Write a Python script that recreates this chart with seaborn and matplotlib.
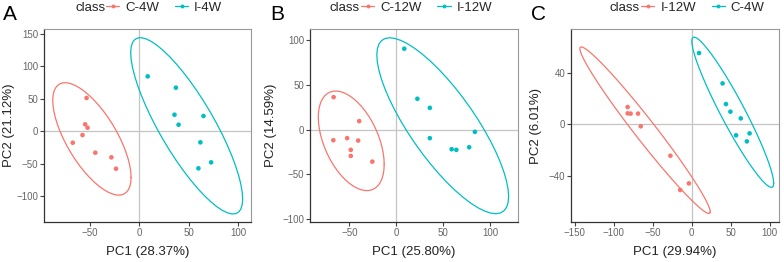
import numpy as np
import pandas as pd
import matplotlib
matplotlib.use("Agg")
import matplotlib.pyplot as plt
import seaborn as sns
from matplotlib.lines import Line2D

# ---------------- data ----------------
panel_letters = ["A", "B", "C"]
x_titles = ["PC1 (28.37%)", "PC1 (25.80%)", "PC1 (29.94%)"]
y_titles = ["PC2 (21.12%)", "PC2 (14.59%)", "PC2 (6.01%)"]
class_names = [["C-4W", "I-4W"], ["C-12W", "I-12W"], ["I-12W", "C-4W"]]

a_red_x = [-53.1, -54.5, -52.1, -57.2, -67.0, -44.3, -28.1, -23.4]
a_red_y = [50.8, 10.3, 5.1, -6.2, -18.0, -33.3, -40.5, -58.0]
a_teal_x = [8.5, 36.9, 35.5, 39.6, 64.7, 61.6, 72.4, 59.6]
a_teal_y = [84.1, 66.7, 25.1, 9.7, 23.1, -17.4, -48.2, -57.4]

b_red_x = [-66.8, -67.1, -52.4, -39.5, -40.6, -48.5, -48.5, -25.5]
b_red_y = [36.3, -12.0, -9.7, 9.4, -12.4, -22.8, -29.6, -36.0]
b_teal_x = [8.6, 22.6, 35.9, 35.9, 59.2, 64.2, 77.9, 84.0]
b_teal_y = [90.6, 34.5, 24.3, -9.7, -22.1, -22.8, -19.9, -2.6]

c_red_x = [-82.0, -82.0, -78.2, -68.7, -65.2, -27.2, -3.5, -14.7]
c_red_y = [13.4, 8.5, 8.3, 8.3, -1.5, -24.3, -45.7, -50.8]
c_teal_x = [9.5, 39.7, 44.0, 49.7, 63.0, 74.3, 57.0, 70.8]
c_teal_y = [55.2, 31.7, 15.7, 9.8, 4.6, -7.0, -8.5, -13.2]

x_ticks = [[-50, 0, 50, 100], [-50, 0, 50, 100], [-150, -100, -50, 0, 50, 100]]
y_ticks = [[-100, -50, 0, 50, 100, 150], [-100, -50, 0, 50, 100], [-40, 0, 40]]
x_lims = [(-96, 112.6), (-92, 130), (-154.6, 112)]
y_lims = [(-140, 157), (-103.7, 112.7), (-75.6, 73.8)]

panels = [
    (a_red_x, a_red_y, a_teal_x, a_teal_y),
    (b_red_x, b_red_y, b_teal_x, b_teal_y),
    (c_red_x, c_red_y, c_teal_x, c_teal_y),
]

RED = "#F8766D"
TEAL = "#00BFC4"
F_95_2_7 = 4.737414  # qf(0.95, 2, 7) for n = 8 points per group


def cov_trob(x, nu=5, maxit=25, tol=0.01):
    n, p = x.shape
    wt = np.ones(n)
    loc = (wt[:, None] * x).sum(0) / wt.sum()
    w = np.sqrt(wt)
    for _ in range(maxit):
        w0 = w
        X = x - loc
        _, d, vt = np.linalg.svd(np.sqrt(w / w.sum())[:, None] * X, full_matrices=False)
        wX = X @ vt.T @ np.diag(1.0 / d)
        Q = (wX ** 2).sum(1)
        w = (wt * (nu + p)) / (nu + Q)
        loc = (w[:, None] * x).sum(0) / w.sum()
        if np.all(np.abs(w - w0) < tol):
            break
    cov = (np.sqrt(w)[:, None] * X).T @ (np.sqrt(w)[:, None] * X) / wt.sum()
    return loc, cov


def ellipse(xs, ys, segments=51):
    pts = np.column_stack([xs, ys])
    center, shape = cov_trob(pts)
    chol = np.linalg.cholesky(shape).T
    radius = np.sqrt(2 * F_95_2_7)
    ang = np.linspace(0, 2 * np.pi, segments)
    circ = np.column_stack([np.cos(ang), np.sin(ang)])
    e = center + radius * (circ @ chol)
    return e[:, 0], e[:, 1]


sns.set_theme(style="white")
plt.rcParams["font.family"] = ["Liberation Sans", "DejaVu Sans"]

fig = plt.figure(figsize=(7.84, 2.62), dpi=100)
W, H = 784, 262
axes_px = [(44, 251), (310, 518), (571, 779)]
top_px, bot_px = 29, 222
letter_x = [3, 270, 531]
class_x = [75, 330, 610]
ylabel_right = [15, 277, 542]

renderer = fig.canvas.get_renderer()

for i, (rx, ry, tx, ty) in enumerate(panels):
    l, r = axes_px[i]
    ax = fig.add_axes([l / W, 1 - bot_px / H, (r - l) / W, (bot_px - top_px) / H])
    ax.axhline(0, color="#C4C4C4", lw=0.9, zorder=1)
    ax.axvline(0, color="#C4C4C4", lw=0.9, zorder=1)
    names = class_names[i]
    df = pd.DataFrame({
        "x": list(rx) + list(tx),
        "y": list(ry) + list(ty),
        "cls": [names[0]] * len(rx) + [names[1]] * len(tx),
    })
    pal = {names[0]: RED, names[1]: TEAL}
    for nm, xs, ys in [(names[0], rx, ry), (names[1], tx, ty)]:
        ex, ey = ellipse(np.array(xs), np.array(ys))
        ax.plot(ex, ey, color=pal[nm], lw=0.9, zorder=2)
    sns.scatterplot(data=df, x="x", y="y", hue="cls", palette=pal, s=11,
                    edgecolor="none", legend=False, ax=ax, zorder=3)
    ax.set_xlim(*x_lims[i])
    ax.set_ylim(*y_lims[i])
    ax.set_xticks(x_ticks[i])
    ax.set_yticks(y_ticks[i])
    ax.tick_params(axis="both", which="major", labelsize=7, labelcolor="#666666",
                   color="#444444", length=3.2, width=0.8, pad=1.0, bottom=True, left=True)
    ax.set_xlabel(x_titles[i], fontsize=9.5, color="#222222", labelpad=6)
    ax.set_ylabel(y_titles[i], fontsize=9.5, color="#222222")
    ax.yaxis.set_label_coords((ylabel_right[i] - l) / (r - l), 0.5)
    for side in ["left", "bottom"]:
        ax.spines[side].set_color("#333333")
        ax.spines[side].set_linewidth(0.9)
    for side in ["top", "right"]:
        ax.spines[side].set_color("#999999")
        ax.spines[side].set_linewidth(0.8)

    fig.text(letter_x[i] / W, 1 - 14.5 / H, panel_letters[i], fontsize=15,
             va="center", ha="left", color="black")
    ct = fig.text(class_x[i] / W, 1 - 8 / H, "class", fontsize=9.5, va="center",
                  ha="left", color="#222222")
    bb = ct.get_window_extent(renderer=renderer)
    leg_left_px = bb.x1 + 1
    handles = [Line2D([0], [0], color=pal[nm], lw=0.9, marker="o", markersize=2.8,
                      markeredgewidth=0) for nm in names]
    ax.legend(handles, names, loc="center left", ncol=2, frameon=False,
              fontsize=9.5, handlelength=1.0, handletextpad=0.45, columnspacing=1.2,
              borderaxespad=0, borderpad=0,
              bbox_to_anchor=fig.transFigure.inverted().transform((leg_left_px, H - 8)),
              bbox_transform=fig.transFigure)

fig.savefig("out.png", dpi=100, facecolor="white")
